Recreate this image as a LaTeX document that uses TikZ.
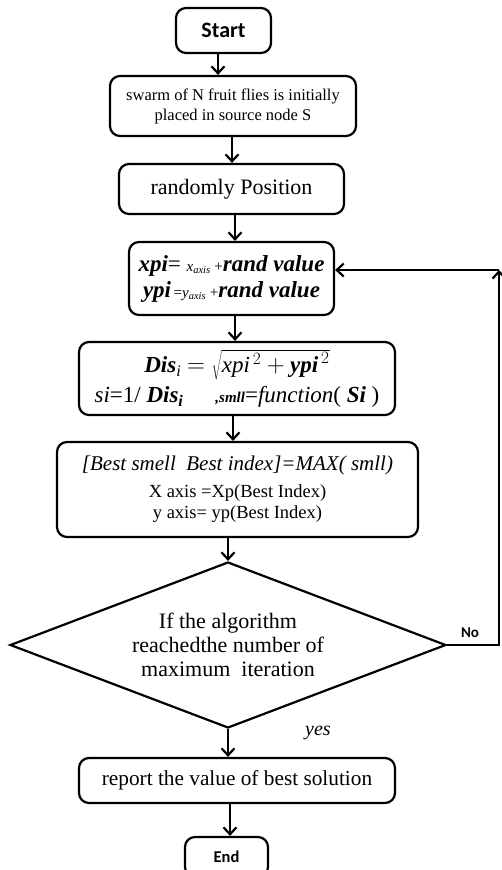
\documentclass[tikz,border=0pt]{standalone}
\usepackage{fontspec}
\setmainfont{Liberation Serif}
\newfontfamily\calfont{Carlito}
\usepackage{tikz}
\usetikzlibrary{shapes.geometric, arrows.meta}

\tikzset{
  box/.style={draw, rounded corners=10pt, line width=2.2pt, align=center, inner sep=2pt},
  flow/.style={line width=2.2pt, -{Straight Barb[length=7pt, width=13pt]}},
}

\begin{document}
\begin{tikzpicture}[x=1pt, y=-1pt]
      \clip (0,0) rectangle (502,870);
      \fill[white] (0,0) rectangle (502,870);
      \node[box, minimum width=95pt, minimum height=45pt, font=\calfont\bfseries\fontsize{22}{24}\selectfont] (1) at (223.5, 30.5) {Start};
      \node[box, minimum width=246pt, minimum height=60pt, font=\fontsize{16.5}{20}\selectfont] (2) at (233, 106) {swarm of N fruit flies is initially\\placed in source node S};
      \node[box, minimum width=225pt, minimum height=50pt, font=\fontsize{22}{24}\selectfont] (3) at (231.5, 189) {randomly Position};
      \node[box, minimum width=205pt, minimum height=73pt, font=\fontsize{23}{26}\selectfont] (4) at (231.5, 278.5)
        {\textbf{\textit{xpi}}= {\fontsize{15}{15}\selectfont\textit{x\textsubscript{axis}} +}\textbf{\textit{rand value}}\\
         \textbf{\textit{ypi}}{\fontsize{15}{15}\selectfont\,=\textit{y\textsubscript{axis}} +}\textbf{\textit{rand value}}};
      \node[box, minimum width=316pt, minimum height=73pt, font=\fontsize{23}{26}\selectfont] (5) at (237, 378.5)
        {\textbf{\textit{Dis}}\textsubscript{\textit{i}} $=\sqrt{\textit{xpi}^{\,2}+\textbf{\textit{ypi}}^{\,2}}$\hspace{80pt}\\[4pt]
         \textit{si}=1/ \textbf{\textit{Dis}}\textsubscript{\textbf{\textit{i}}}\hspace{32pt}{\fontsize{15}{15}\selectfont\textbf{\textit{,smll}}}=\textit{function}( \textbf{\textit{Si}} )};
      \node[box, minimum width=361pt, minimum height=95pt, font=\fontsize{18.5}{21}\selectfont] (6) at (237.5, 489.5)
        {{\fontsize{21}{22}\selectfont\textit{[Best smell\enspace Best index]=MAX( smll)}}\\[6pt]
         X axis =Xp(Best Index)\\y axis= yp(Best Index)};
      \node[diamond, aspect=2.63, draw, line width=2.2pt, minimum width=436pt, minimum height=166pt, align=center, inner sep=0pt, font=\fontsize{22}{24}\selectfont] (7) at (228, 645)
        {If the algorithm\\reachedthe number of\\maximum\enspace iteration};
      \node[box, minimum width=316pt, minimum height=45pt, font=\fontsize{21.3}{24}\selectfont] (8) at (237, 780.5) {report the value of best solution};
      \node[box, minimum width=83pt, minimum height=40pt, font=\calfont\bfseries\fontsize{16.5}{18}\selectfont] (9) at (226.5, 857) {End};
      \node[font=\calfont\bfseries\fontsize{15}{17}\selectfont] (no) at (470, 633) {No};
      \node[font=\itshape\fontsize{20}{22}\selectfont] (yes) at (318, 733) {yes};
      \coordinate (turn) at (499, 270);
      \draw[flow] (1.south -| 218,0) -- (2.north -| 218,0);
      \draw[flow] (2.south -| 232,0) -- (3.north -| 232,0);
      \draw[flow] (3.south -| 235,0) -- (4.north -| 235,0);
      \draw[flow] (4.south -| 235,0) -- (5.north -| 235,0);
      \draw[flow] (5.south -| 233,0) -- (6.north -| 233,0);
      \draw[flow] (6.south -| 7.north) -- (7.north);
      \draw[flow] (7.south) -- (8.north -| 7.south);
      \draw[flow] (8.south -| 230,0) -- (9.north -| 230,0);
      \draw[flow] (7.east) -| (turn);
      \draw[flow] (turn) -- (turn -| 4.east);
\end{tikzpicture}
\end{document}
